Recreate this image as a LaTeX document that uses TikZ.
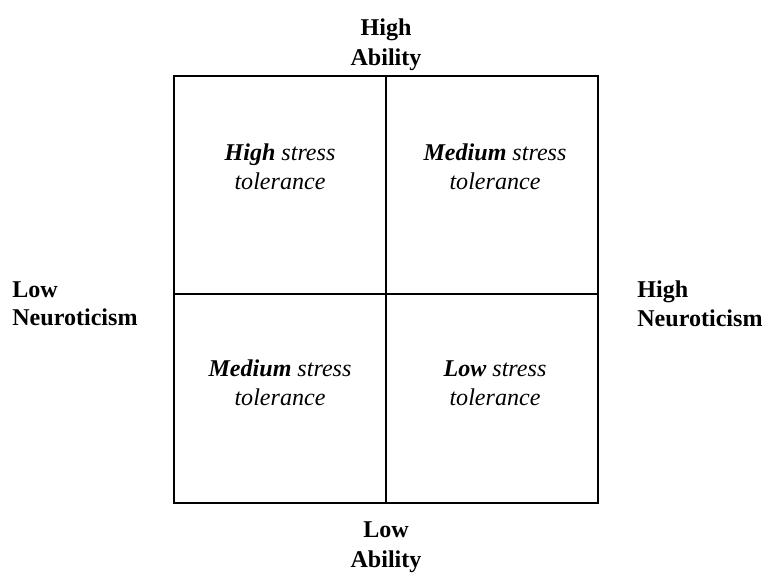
\documentclass[tikz,border=0pt]{standalone}
\usepackage{fontspec}
\setmainfont{Liberation Serif}
\usetikzlibrary{positioning}

\begin{document}
\begin{tikzpicture}[
  x=0.02cm, y=-0.02cm,
  axislabel/.style={font=\fontsize{13.7}{16.8}\selectfont\bfseries, align=center, inner sep=0pt},
  sidelabel/.style={font=\fontsize{13.7}{16.2}\selectfont\bfseries, align=left, inner sep=0pt},
  cell/.style={font=\fontsize{13.7}{16.6}\selectfont\itshape, align=center, inner sep=0pt},
  grid/.style={line width=1.1pt}
]
\useasboundingbox (0,0) rectangle (771,573);

% quadrant frame
\draw[grid] (174,76) rectangle (598,503);
\coordinate (top) at (386,76);
\coordinate (bottom) at (386,503);
\coordinate (left) at (174,294);
\coordinate (right) at (598,294);
\draw[grid] (top) -- (bottom);
\draw[grid] (left) -- (right);

% axis labels
\node[axislabel] (highab) at (386,45) {High\\Ability};
\node[axislabel] (lowab) at (386,547) {Low\\Ability};
\node[sidelabel, anchor=west] (lowneu) at (12,304) {Low\\Neuroticism};
\node[sidelabel, anchor=west] (highneu) at (637,304) {High\\Neuroticism};

% quadrants
\node[cell] (tl) at (280,167) {\textbf{High} stress\\tolerance};
\node[cell] (tr) at (495,167) {\textbf{Medium} stress\\tolerance};
\node[cell] (bl) at (280,383) {\textbf{Medium} stress\\tolerance};
\node[cell] (br) at (495,383) {\textbf{Low} stress\\tolerance};
\end{tikzpicture}
\end{document}
